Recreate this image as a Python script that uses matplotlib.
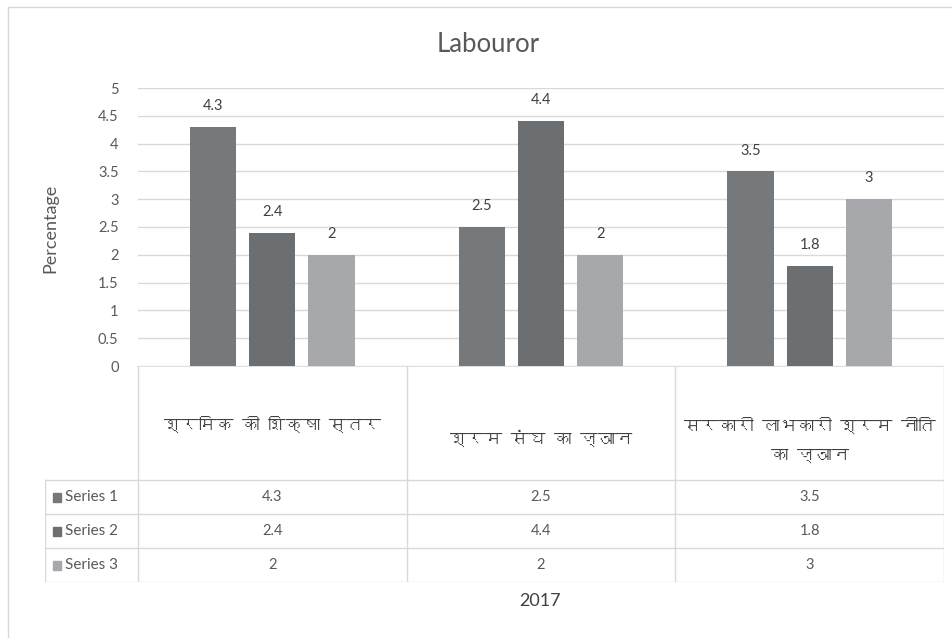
import matplotlib
matplotlib.use('Agg')
import matplotlib.pyplot as plt
from matplotlib import font_manager
from matplotlib.ft2font import FT2Font
from matplotlib.patches import Rectangle

# data
categories = ['श्रमिक की शिक्षा स्तर', 'श्रम संघ का ज्ञान', 'सरकारी लाभकारी श्रम नीति\nका ज्ञान']
series_names = ['Series 1', 'Series 2', 'Series 3']
series_1 = [4.3, 2.5, 3.5]
series_2 = [2.4, 4.4, 1.8]
series_3 = [2, 2, 3]
colors = ['#76797c', '#6b6f72', '#a7a8ab']
yticks = [0, 0.5, 1, 1.5, 2, 2.5, 3, 3.5, 4, 4.5, 5]
title = 'Labouror'
ylabel = 'Percentage'
xlabel = '2017'


def find_devanagari_font():
    for f in font_manager.fontManager.ttflist:
        try:
            if 0x0936 in FT2Font(f.fname).get_charmap():
                return f.name
        except Exception:
            pass
    return None


dev = find_devanagari_font()
dev_family = [dev, 'DejaVu Sans'] if dev else ['DejaVu Sans']
latin = ['Lato', 'DejaVu Sans']
plt.rcParams['font.family'] = latin

W, H = 953, 638
fig = plt.figure(figsize=(W / 100, H / 100), dpi=100)

# outer chart border (only top/left visible in reference)
fig.patches.append(Rectangle((8 / W, -0.05), 1.1, 1 - 7 / H + 0.05, transform=fig.transFigure,
                             fill=False, edgecolor='#d9d9d9', linewidth=1))

# plot area
x0, x1, ytop, ybot = 138, 944, 88, 366
ax = fig.add_axes([x0 / W, 1 - ybot / H, (x1 - x0) / W, (ybot - ytop) / H])
ax.set_xlim(-0.5, 2.5)
ax.set_ylim(0, 5)
ax.set_yticks(yticks)
ax.set_yticklabels([f'{t:g}' for t in yticks], fontsize=10.5, color='#595959')
ax.tick_params(axis='y', length=0, pad=14)
ax.set_xticks([])
for s in ax.spines.values():
    s.set_visible(False)
ax.grid(axis='y', color='#d9d9d9', linewidth=1)
ax.set_axisbelow(True)

bw = 0.172
step = 0.22
all_series = [series_1, series_2, series_3]
for i, vals in enumerate(all_series):
    xs = [c + (i - 1) * step for c in range(len(categories))]
    bars = ax.bar(xs, vals, width=bw, color=colors[i], zorder=3)
    for b, v in zip(bars, vals):
        ax.annotate(f'{v:g}', (b.get_x() + b.get_width() / 2, v), xytext=(0, 10),
                    textcoords='offset points', ha='center', va='bottom',
                    fontsize=10.5, color='#404040')

fig.text(488 / W, 1 - 44 / H, title, ha='center', va='center', fontsize=18.5,
         color='#595959')
fig.text(50 / W, 1 - 228 / H, ylabel, rotation=90, ha='center', va='center',
         fontsize=13, color='#595959')

# data table below the plot
tl, tb = 45, 582
label_w = (x0 - tl) / ((x1 - x0) / 3)
tax = fig.add_axes([tl / W, 1 - tb / H, (x1 - tl) / W, (tb - ybot) / H])
tax.set_xlim(-0.5 - label_w, 2.5)
tax.set_ylim(tb - ybot, 0)
tax.axis('off')
lc = '#d9d9d9'
xl = -0.5 - label_w
head = 480 - ybot
rowh = 34
tax.plot([-0.5, 2.5], [0, 0], color=lc, lw=1.2)
for xb in [-0.5, 0.5, 1.5, 2.5]:
    tax.plot([xb, xb], [0, tb - ybot], color=lc, lw=1)
tax.plot([xl, xl], [head, tb - ybot], color=lc, lw=1)
for r in range(4):
    yy = head + r * rowh
    tax.plot([xl, 2.5], [yy, yy], color=lc, lw=1)

head_y = [424 - ybot, 438 - ybot, 440 - ybot]
for c, cat in enumerate(categories):
    tax.text(c, head_y[c], cat, ha='center', va='center', fontsize=12.5,
             fontweight='bold', color='#404040', family=dev_family, linespacing=2.3)

for r, (name, vals) in enumerate(zip(series_names, all_series)):
    yc = head + r * rowh + rowh / 2
    tax.add_patch(Rectangle((xl + 0.028, yc - 4.5), 0.032, 9, color=colors[r]))
    tax.text(xl + 0.075, yc, name, ha='left', va='center', fontsize=11, color='#595959')
    for c, v in enumerate(vals):
        tax.text(c, yc, f'{v:g}', ha='center', va='center', fontsize=10.5, color='#595959')

fig.text(540 / W, 1 - 601 / H, xlabel, ha='center', va='center', fontsize=13, color='#404040')

fig.savefig('out.png', dpi=100)
